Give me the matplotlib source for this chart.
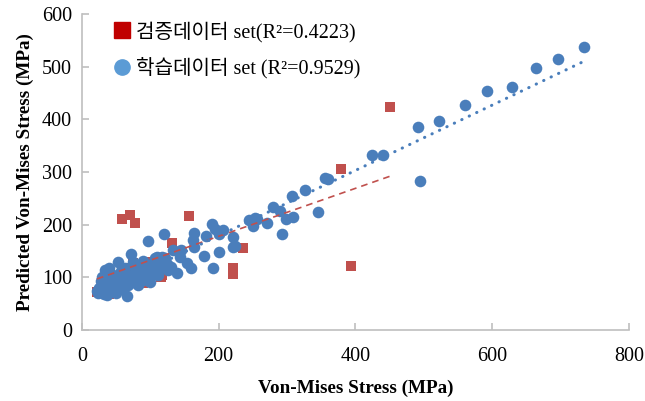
import numpy as np
import matplotlib
matplotlib.use("Agg")
import matplotlib.pyplot as plt
from matplotlib.lines import Line2D

# training set (blue circles)
train_x = [734, 696, 664, 629, 593, 560, 522, 492, 494, 441, 425, 360, 356, 327, 307,
           280, 290, 309, 299, 346, 292, 270, 253, 250, 245, 256, 190, 194, 207, 200,
           182, 221, 221, 224, 200, 178, 191, 164, 163, 164, 154, 160, 145, 144, 133,
           120, 97, 139, 122, 110, 119,
           72, 53, 40, 34, 89, 75, 107, 117, 66, 82, 29, 46, 60, 95, 104, 110, 114,
           122, 126,
           22, 25, 28, 30, 33, 35, 38, 40, 43, 45, 48, 50, 52, 55, 58, 62, 65, 68, 70,
           73, 76, 80, 85, 88, 92, 98, 102, 108, 112, 118, 125, 130, 28, 36, 42, 57,
           63, 78, 84, 90, 100, 50, 24, 32]
train_y = [537, 515, 497, 461, 454, 427, 397, 385, 283, 332, 332, 287, 289, 266, 254,
           234, 226, 214, 211, 224, 182, 203, 213, 198, 209, 211, 201, 192, 190, 182,
           178, 177, 158, 160, 149, 140, 118, 185, 171, 158, 127, 118, 152, 139, 152,
           182, 169, 108, 137, 139, 120,
           144, 129, 118, 114, 131, 129, 137, 139, 65, 85, 100, 104, 108, 101, 108,
           114, 123, 133, 114,
           75, 80, 72, 88, 78, 95, 70, 85, 92, 76, 98, 82, 88, 95, 78, 90, 100, 85, 96,
           105, 92, 100, 110, 97, 112, 118, 125, 128, 105, 130, 126, 120, 94, 66, 102,
           112, 118, 118, 124, 95, 92, 70, 70, 68]

# validation set (red squares)
test_x = [451, 379, 394, 236, 221, 221, 157, 132, 70, 59, 78, 22, 40, 115, 90, 70,
          75, 117, 60, 100, 85]
test_y = [424, 306, 122, 156, 118, 106, 216, 165, 218, 211, 203, 72, 68, 100, 90, 118,
          127, 105, 112, 130, 120]

# linear trendlines (slope, intercept)
test_fit = (0.455, 87)
train_fit = (0.62, 55)

test_label = "검증데이터 set(R²=0.4223)"
train_label = "학습데이터 set (R²=0.9529)"

serif = ["Liberation Serif", "Noto Sans CJK KR"]

fig = plt.figure(figsize=(6.45, 4.01), dpi=100)
ax = fig.add_axes([0.127, 0.177, 0.848, 0.788])

ax.scatter(test_x, test_y, marker="s", s=58, color="#C0504D", zorder=2, linewidths=0)
ax.scatter(train_x, train_y, marker="o", s=70, color="#4A7EBB", zorder=3, linewidths=0)

tx = np.array([min(test_x), max(test_x)])
ax.plot(tx, test_fit[0] * tx + test_fit[1], color="#C0504D", lw=1.2,
        dashes=(4, 3), zorder=4)
bx = np.array([min(train_x), max(train_x)])
ax.plot(bx, train_fit[0] * bx + train_fit[1], color="#4A7EBB", lw=2.2,
        dashes=(0.1, 2.6), dash_capstyle="round", zorder=4)

ax.set_xlim(0, 800)
ax.set_ylim(0, 600)
ax.set_xticks(range(0, 801, 200))
ax.set_yticks(range(0, 601, 100))
for s in ["top", "right"]:
    ax.spines[s].set_visible(False)
for s in ["left", "bottom"]:
    ax.spines[s].set_color("#BFBFBF")
    ax.spines[s].set_linewidth(1.2)
ax.tick_params(direction="in", length=5, color="#BFBFBF", width=1.2,
               labelsize=14.5)
ax.tick_params(axis="x", pad=12)
ax.tick_params(axis="y", pad=7)
for lab in ax.get_xticklabels() + ax.get_yticklabels():
    lab.set_family(serif)

ax.set_xlabel("Von-Mises Stress (MPa)", family=serif, weight="bold", fontsize=13.8,
              labelpad=10)
ax.set_ylabel("Predicted Von-Mises Stress (MPa)", family=serif, weight="bold",
              fontsize=13.8, labelpad=6)

handles = [
    Line2D([], [], marker="s", ls="none", color="#C00000", markersize=11),
    Line2D([], [], marker="o", ls="none", color="#5B9BD5", markersize=11),
]
ax.legend(handles, [test_label, train_label], loc="upper left",
          bbox_to_anchor=(0.025, 1.035), frameon=False, handlelength=0.8,
          handletextpad=0.3, labelspacing=0.75,
          prop={"family": serif, "size": 14.5})

fig.savefig("out.png", dpi=100)
